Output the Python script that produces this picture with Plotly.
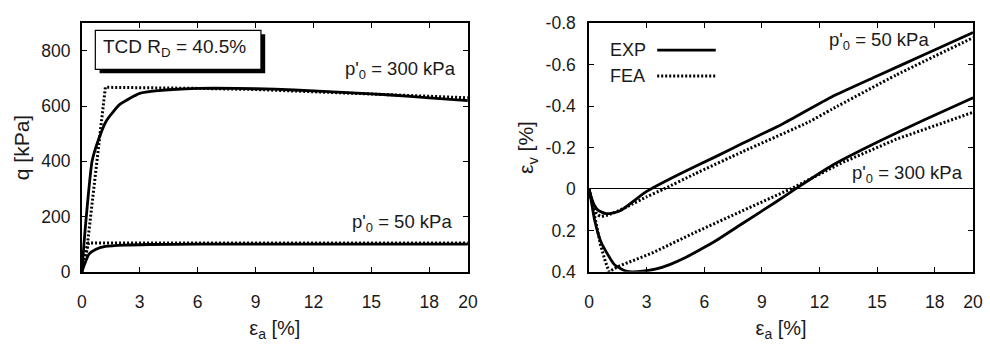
import plotly.graph_objects as go

# ---- q vs axial strain (left panel) ----
ea_exp300 = [0, 0.05, 0.15, 0.27, 0.53, 0.87, 1.29, 1.97, 3.0, 4.0, 4.7, 6.0, 8.0, 10.0, 12.0, 14.0, 16.0, 18.0, 20.0]
q_exp300 = [0, 45, 135, 229, 400, 480, 549, 606, 646, 656, 660, 664, 664, 661, 655, 648, 640, 630, 620]

ea_fea300 = [0, 0.3, 1.22, 3.0, 6.0, 9.0, 12.0, 15.0, 18.0, 20.0]
q_fea300 = [0, 105, 668, 667, 664, 660, 652, 644, 636, 630]

ea_exp50 = [0, 0.1, 0.2, 0.37, 0.71, 1.22, 2.24, 3.5, 6.0, 10.0, 15.0, 20.0]
q_exp50 = [0, 20, 38, 64, 81, 92, 97, 99, 100, 100, 100, 100]

ea_fea50 = [0, 0.35, 3.0, 10.0, 20.0]
q_fea50 = [0, 104, 104, 104, 104]

# ---- volumetric vs axial strain (right panel) ----
ea_v_exp50 = [0, 0.1, 0.29, 0.5, 0.88, 1.2, 1.65, 2.3, 3.0, 4.72, 6.6, 8.0, 10.1, 12.65, 15.0, 17.5, 20.0]
ev_exp50 = [0, 0.035, 0.081, 0.105, 0.119, 0.117, 0.104, 0.06, 0.012, -0.072, -0.156, -0.22, -0.315, -0.445, -0.545, -0.65, -0.755]

ea_v_fea50 = [0, 0.2, 0.4, 0.6, 0.9, 1.3, 2.0, 3.0, 3.9, 5.49, 8.0, 11.46, 12.65, 16.0, 20.0]
ev_fea50 = [0, 0.07, 0.12, 0.132, 0.128, 0.115, 0.085, 0.038, 0.0, -0.072, -0.18, -0.324, -0.385, -0.55, -0.73]

ea_v_exp300 = [0, 0.12, 0.29, 0.63, 1.31, 1.8, 2.2, 2.8, 3.5, 4.2, 5.0, 5.8, 6.6, 8.05, 9.75, 10.75, 12.65, 15.0, 17.5, 20.0]
ev_exp300 = [0, 0.058, 0.15, 0.257, 0.364, 0.392, 0.400, 0.397, 0.386, 0.365, 0.332, 0.292, 0.250, 0.163, 0.062, 0.0, -0.113, -0.225, -0.335, -0.44]

ea_v_fea300 = [0, 0.15, 0.35, 0.6, 0.85, 1.05, 1.3, 1.57, 3.27, 5.49, 8.0, 10.5, 13.16, 16.0, 20.0]
ev_fea300 = [0, 0.07, 0.17, 0.27, 0.35, 0.40, 0.385, 0.372, 0.31, 0.211, 0.105, 0.0, -0.126, -0.24, -0.37]

x_ticks = [0, 3, 6, 9, 12, 15, 18, 20]
q_ticks = [0, 200, 400, 600, 800]
ev_ticks = [-0.8, -0.6, -0.4, -0.2, 0, 0.2, 0.4]
ev_ticktext = ["-0.8", "-0.6", "-0.4", "-0.2", "0", "0.2", "0.4"]

FONT = "Liberation Sans, Arial, sans-serif"
INK = "#1a1a1a"
SOLID = dict(color="black", width=2.8)
DOTTED = dict(color="black", width=3, dash="2px,2px")

fig = go.Figure()

def add(x, y, line, xa, ya, smooth=False):
    ln = dict(line)
    if smooth:
        ln.update(shape="spline", smoothing=0.5)
    fig.add_trace(go.Scatter(x=x, y=y, mode="lines", line=ln, xaxis=xa, yaxis=ya,
                             showlegend=False, hoverinfo="skip"))

add(ea_fea300, q_fea300, DOTTED, "x", "y")
add(ea_fea50, q_fea50, DOTTED, "x", "y")
add(ea_exp300, q_exp300, SOLID, "x", "y", smooth=True)
add(ea_exp50, q_exp50, SOLID, "x", "y", smooth=True)

add(ea_v_fea50, ev_fea50, DOTTED, "x2", "y2", smooth=True)
add(ea_v_fea300, ev_fea300, DOTTED, "x2", "y2")
add(ea_v_exp50, ev_exp50, SOLID, "x2", "y2", smooth=True)
add(ea_v_exp300, ev_exp300, SOLID, "x2", "y2", smooth=True)

W, H = 990, 344
L1, R1 = 78, 470
L2, R2 = 593, 983
TOP, BOT = 14, 278

axis_common = dict(
    showgrid=False, zeroline=False, showline=True, linecolor="black", linewidth=1.5,
    mirror="allticks", ticks="inside", ticklen=5, tickwidth=1.2, tickcolor="black",
    tickfont=dict(family=FONT, size=17.5, color=INK),
)

fig.update_layout(
    width=W, height=H, margin=dict(l=0, r=0, t=0, b=0),
    paper_bgcolor="white", plot_bgcolor="white",
    font=dict(family=FONT, size=17, color=INK),
    xaxis=dict(axis_common, domain=[L1 / W, R1 / W], range=[0, 20], tickvals=x_ticks,
               anchor="y", ticklabelstandoff=13,
               title=dict(text="ε<sub>a</sub> [%]", font=dict(size=20), standoff=10)),
    yaxis=dict(axis_common, domain=[1 - BOT / H, 1 - TOP / H], range=[0, 900], tickvals=q_ticks,
               anchor="x", ticklabelstandoff=6,
               title=dict(text="q [kPa]", font=dict(size=21), standoff=6)),
    xaxis2=dict(axis_common, domain=[L2 / W, R2 / W], range=[0, 20], tickvals=x_ticks,
                anchor="y2", ticklabelstandoff=13,
                title=dict(text="ε<sub>a</sub> [%]", font=dict(size=20), standoff=10)),
    yaxis2=dict(axis_common, domain=[1 - BOT / H, 1 - TOP / H], range=[0.4, -0.8],
                tickvals=ev_ticks, ticktext=ev_ticktext, anchor="x2", ticklabelstandoff=8,
                zeroline=True, zerolinecolor="black", zerolinewidth=1.2,
                title=dict(text="ε<sub>v</sub> [%]", font=dict(size=21), standoff=6)),
)

# Specimen label box with drop shadow
bx0, bx1, by0, by1 = 0.035, 0.464, 0.814, 0.971
fig.add_shape(type="rect", xref="x domain", yref="y domain",
              x0=bx0 + 0.011, x1=bx1 + 0.011, y0=by0 - 0.015, y1=by1 - 0.015,
              fillcolor="black", line=dict(width=0), layer="above")
fig.add_shape(type="rect", xref="x domain", yref="y domain",
              x0=bx0, x1=bx1, y0=by0, y1=by1,
              fillcolor="white", line=dict(color="black", width=1.2), layer="above")
fig.add_annotation(xref="x domain", yref="y domain", x=0.05, y=0.90, xanchor="left",
                   yanchor="middle", showarrow=False,
                   text="TCD R<sub>D</sub> = 40.5%", font=dict(size=19, color=INK))

def label(text, x, y, xa, ya):
    fig.add_annotation(x=x, y=y, xref=xa, yref=ya, xanchor="right", yanchor="middle",
                       showarrow=False, text=text, font=dict(size=18.5, color=INK))

label("p'<sub>0</sub> = 300 kPa", 19.5, 730, "x", "y")
label("p'<sub>0</sub> = 50 kPa", 19.3, 178, "x", "y")
label("p'<sub>0</sub> = 50 kPa", 17.8, -0.715, "x2", "y2")
label("p'<sub>0</sub> = 300 kPa", 19.6, -0.07, "x2", "y2")

# Legend: series name followed by its line sample
for name, yv, style in [("EXP", -0.67, SOLID), ("FEA", -0.545, DOTTED)]:
    fig.add_annotation(x=1.0, y=yv, xref="x2", yref="y2", xanchor="left", yanchor="middle",
                       showarrow=False, text=name, font=dict(size=18, color=INK))
    fig.add_shape(type="line", xref="x2", yref="y2", x0=3.55, x1=6.6, y0=yv, y1=yv,
                  line=style)

fig.write_html("out.html")
